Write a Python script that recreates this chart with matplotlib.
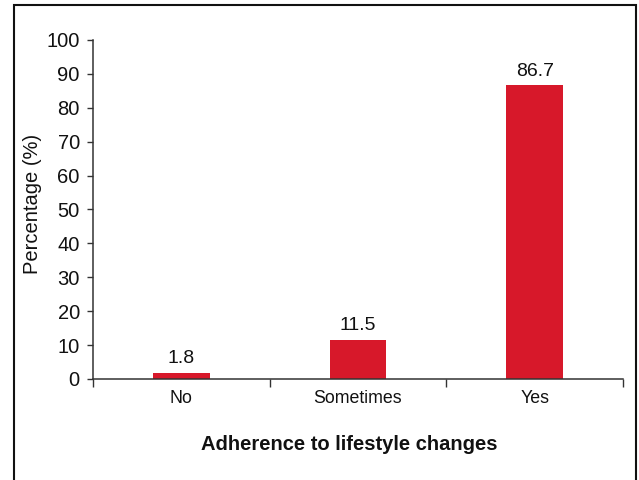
import matplotlib.pyplot as plt
import matplotlib.patches as mpatches
import numpy as np

# Data
categories = ['No', 'Sometimes', 'Yes']
percentages = [1.8, 11.5, 86.7]
value_labels = ['1.8', '11.5', '86.7']
yticks = [0, 10, 20, 30, 40, 50, 60, 70, 80, 90, 100]

# Style
font = 'Liberation Sans'
bar_color = '#D7182A'
axis_color = '#333333'

plt.rcParams['font.family'] = font

fig = plt.figure(figsize=(6.39, 4.80), dpi=100)
ax = fig.add_axes([93 / 639, 1 - 379 / 480, (623 - 93) / 639, (379 - 40) / 480])

positions = np.arange(len(categories))
ax.bar(positions, percentages, width=0.32, color=bar_color, zorder=2)

for x, v, lab in zip(positions, percentages, value_labels):
    ax.annotate(lab, (x, v), xytext=(0, 4), textcoords='offset points',
                ha='center', va='bottom', fontsize=14, color='#111111')

ax.set_xlim(-0.5, len(categories) - 0.5)
ax.set_ylim(0, 100)
ax.set_yticks(yticks)
ax.set_yticklabels([str(t) for t in yticks], fontsize=14.5, color='#111111')

# boundary ticks between categories, labels at the centres
ax.set_xticks(np.arange(len(categories) + 1) - 0.5)
ax.set_xticklabels([])
ax.set_xticks(positions, minor=True)
ax.set_xticklabels(categories, minor=True, fontsize=12.8, color='#111111')
ax.tick_params(axis='x', which='major', length=6, width=1, color=axis_color, direction='out')
ax.tick_params(axis='x', which='minor', length=0, pad=8)
ax.tick_params(axis='y', length=4.5, width=1, color=axis_color, pad=5)

for side in ['top', 'right']:
    ax.spines[side].set_visible(False)
for side in ['bottom', 'left']:
    ax.spines[side].set_color(axis_color)
    ax.spines[side].set_linewidth(1.1)

fig.text(349.5 / 639, 1 - 445 / 480, 'Adherence to lifestyle changes',
         ha='center', va='center', fontsize=14.5, fontweight='bold', color='#111111')
fig.text(33 / 639, 1 - 204 / 480, 'Percentage (%)', rotation=90,
         ha='center', va='center', fontsize=14.5, color='#111111')

# outer frame
frame = mpatches.Rectangle((14 / 639, -0.02), (636 - 14) / 639, 1 - 5 / 480 + 0.02,
                           transform=fig.transFigure, fill=False,
                           edgecolor='#111111', linewidth=1.5)
fig.patches.append(frame)

fig.savefig('out.png', dpi=100)
